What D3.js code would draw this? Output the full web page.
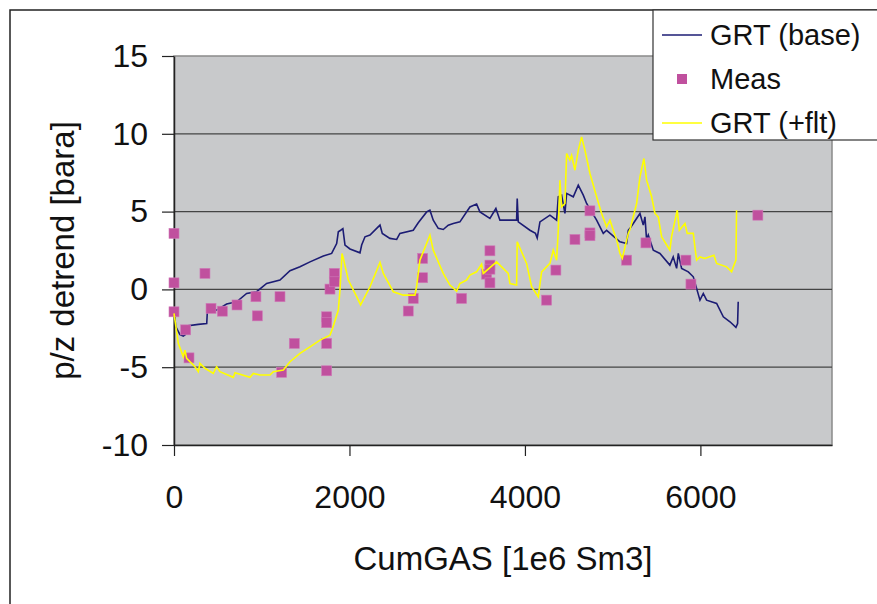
<!DOCTYPE html>
<html>
<head>
<meta charset="utf-8">
<script src="https://cdn.jsdelivr.net/npm/d3@7"></script>
<style>
  body { margin: 0; background: #fff; }
  svg text { font-family: "Liberation Sans", Arial, sans-serif; fill: #111; }
</style>
</head>
<body>
<svg id="chart" width="877" height="604"></svg>
<script>
"use strict";

// === Data ===
let xTicks = [0, 2000, 4000, 6000];
let yTicks = [-10, -5, 0, 5, 10, 15];
let seriesNames = ["GRT (base)", "Meas", "GRT (+flt)"];

// GRT (base) : [CumGAS, p/z detrend]
let grtBase = [
  [0, -1.3], [20, -2.4], [68, -2.9], [106, -3.0], [130, -2.9], [144, -2.35], [277, -2.25],
  [373, -2.19], [380, -1.44], [486, -1.33], [600, -0.94], [714, -0.8], [828, -0.26],
  [942, -0.15], [1056, 0.38], [1208, 0.6], [1322, 1.2], [1436, 1.45], [1550, 1.77],
  [1702, 2.14], [1797, 2.31], [1854, 2.95], [1873, 3.7], [1900, 3.8], [1925, 3.9],
  [1949, 2.85], [2006, 2.6], [2120, 2.35], [2139, 2.85], [2177, 3.38], [2234, 3.49],
  [2310, 3.92], [2348, 4.13], [2374, 3.6], [2461, 3.28], [2538, 3.21], [2575, 3.6],
  [2727, 3.8], [2784, 4.28], [2880, 4.98], [2917, 5.09], [2955, 4.45], [3012, 3.92],
  [3069, 3.85], [3126, 4.13], [3183, 4.24], [3259, 4.34], [3373, 5.3], [3449, 5.48],
  [3487, 4.98], [3601, 4.56], [3669, 5.2], [3715, 4.45], [3905, 4.45], [3912, 5.84],
  [3924, 4.34], [4057, 3.8], [4120, 3.6], [4140, 3.3], [4171, 4.34], [4285, 4.77],
  [4361, 4.45], [4380, 5.95], [4418, 6.06], [4456, 4.88], [4475, 6.17], [4551, 5.95],
  [4608, 6.7], [4665, 6.06], [4703, 5.52], [4817, 4.45], [4893, 3.6], [4931, 3.8],
  [5083, 3.06], [5159, 2.95], [5178, 3.8], [5197, 3.92], [5311, 4.88], [5349, 4.13],
  [5368, 4.66], [5387, 3.17], [5406, 3.49], [5463, 2.52], [5539, 2.31], [5652, 1.56],
  [5690, 2.09], [5729, 1.35], [5748, 2.31], [5786, 1.35], [5862, 1.13], [5919, 0.81],
  [5995, -0.69], [6033, -0.26], [6071, -0.69], [6185, -0.9], [6261, -1.76], [6337, -2.08],
  [6405, -2.44], [6424, -2.19], [6431, -0.8]
];

// Meas
let meas = [
  [0, 3.6], [0, 0.42], [0, -1.44], [133, -2.6], [171, -4.4], [353, 1.03], [422, -1.22],
  [551, -1.4], [718, -1.0], [934, -0.47], [950, -1.7], [1208, -0.47], [1227, -5.33],
  [1371, -3.47], [1740, -1.76], [1740, -2.14], [1740, -3.47], [1740, -5.23], [1778, 0.02],
  [1827, 1.03], [1827, 0.49], [2670, -1.39], [2727, -0.58], [2834, 1.99], [2834, 0.75],
  [3278, -0.58], [3563, 0.98], [3601, 2.48], [3601, 1.56], [3601, 1.3], [3601, 0.42],
  [4247, -0.69], [4353, 1.24], [4570, 3.21], [4741, 5.05], [4741, 3.63], [4741, 3.45],
  [5159, 1.88], [5379, 2.99], [5835, 1.88], [5892, 0.34], [6655, 4.77]
];

// GRT (+flt)
let grtFlt = [
  [0, -1.54], [49, -3.47], [106, -4.33], [125, -3.9], [144, -4.43], [239, -4.97], [277, -5.29],
  [296, -4.75], [353, -5.07], [448, -5.4], [486, -4.97], [524, -5.29], [676, -5.65],
  [695, -5.36], [866, -5.65], [904, -5.4], [980, -5.5], [1094, -5.5], [1132, -5.29],
  [1246, -5.18], [1322, -4.65], [1436, -4.11], [1550, -3.69], [1664, -3.26], [1778, -2.94],
  [1808, -2.5], [1873, -1.33], [1892, -0.04], [1915, 2.31], [1930, 1.99], [1987, 0.6],
  [2082, -0.47], [2127, -1.0], [2234, 0.17], [2348, 1.73], [2386, 1.03], [2500, -0.15],
  [2614, -0.37], [2746, -0.37], [2765, 0.17], [2803, 1.88], [2917, 3.49], [2955, 2.52],
  [3069, 1.03], [3145, 0.28], [3221, -0.11], [3259, 0.38], [3335, 0.6], [3373, 0.92],
  [3449, 1.13], [3506, 1.62], [3525, 1.03], [3677, 1.77], [3810, 1.03], [3829, 0.38],
  [3905, 0.28], [3912, 3.06], [4019, 1.67], [4076, 0.17], [4152, -0.47], [4190, 1.13],
  [4285, 1.67], [4323, 2.52], [4361, 1.88], [4380, 3.8], [4399, 7.02], [4418, 5.3],
  [4456, 5.52], [4475, 8.73], [4513, 8.3], [4532, 8.62], [4570, 7.66], [4608, 8.94],
  [4646, 9.8], [4684, 8.94], [4741, 7.45], [4817, 5.95], [4874, 4.88], [4931, 4.02],
  [4969, 4.45], [5007, 3.8], [5045, 3.2], [5083, 2.31], [5110, 2.0], [5178, 3.6],
  [5200, 3.9], [5273, 5.52], [5311, 7.23], [5356, 8.41], [5387, 7.02], [5444, 5.95],
  [5482, 4.88], [5520, 4.66], [5558, 3.38], [5600, 3.0], [5652, 2.52], [5671, 3.38],
  [5736, 5.09], [5760, 3.8], [5824, 4.24], [5850, 3.6], [5919, 3.6], [5937, 2.74],
  [5957, 1.88], [5995, 2.09], [6050, 1.99], [6154, 2.2], [6185, 1.67], [6299, 1.45],
  [6356, 1.13], [6375, 1.45], [6405, 1.88], [6412, 5.09]
];

// === Layout ===
let plot = { left: 174, right: 832, top: 56, bottom: 445 };
let colors = { base: "#1c1c74", meas: "#c0509e", flt: "#ffff00", plotBg: "#c8c9cb" };

let svg = d3.select("#chart");

let x = d3.scaleLinear().domain([0, 7500]).range([plot.left, plot.right]);
let y = d3.scaleLinear().domain([-10, 15]).range([plot.bottom, plot.top]);

// outer chart border
svg.append("rect")
  .attr("x", 10).attr("y", 10)
  .attr("width", 900).attr("height", 700)
  .attr("fill", "#fff")
  .attr("stroke", "#222")
  .attr("stroke-width", 1.5);

// plot area
svg.append("rect")
  .attr("x", plot.left).attr("y", plot.top)
  .attr("width", plot.right - plot.left).attr("height", plot.bottom - plot.top)
  .attr("fill", colors.plotBg)
  .attr("stroke", "#8a8a8a")
  .attr("stroke-width", 1.5);

// gridlines
svg.append("g")
  .selectAll("line")
  .data(yTicks.filter(t => t > -10 && t < 15))
  .join("line")
  .attr("x1", plot.left).attr("x2", plot.right)
  .attr("y1", d => y(d)).attr("y2", d => y(d))
  .attr("stroke", "#444")
  .attr("stroke-width", 1.2);

// axes (plain hyphen minus, no thousands separator)
let plainFmt = d => String(d);
let yAxis = svg.append("g")
  .attr("transform", `translate(${plot.left},0)`)
  .call(d3.axisLeft(y).tickValues(yTicks).tickFormat(plainFmt)
    .tickSize(12).tickPadding(14).tickSizeOuter(0));
let xAxis = svg.append("g")
  .attr("transform", `translate(0,${plot.bottom})`)
  .call(d3.axisBottom(x).tickValues(xTicks).tickFormat(plainFmt)
    .tickSize(11).tickPadding(29).tickSizeOuter(0));

[yAxis, xAxis].forEach(ax => {
  ax.select(".domain").attr("stroke", "#222").attr("stroke-width", 1.5);
  ax.selectAll(".tick line").attr("stroke", "#222").attr("stroke-width", 1.2);
  ax.selectAll(".tick text")
    .attr("font-size", 32)
    .attr("font-family", "Liberation Sans, Arial, sans-serif")
    .attr("fill", "#111");
});

// lines
let line = d3.line().x(d => x(d[0])).y(d => y(d[1]));

svg.append("path")
  .datum(grtBase)
  .attr("d", line)
  .attr("fill", "none")
  .attr("stroke", colors.base)
  .attr("stroke-width", 1.6);

svg.append("g")
  .selectAll("rect")
  .data(meas)
  .join("rect")
  .attr("x", d => x(d[0]) - 5)
  .attr("y", d => y(d[1]) - 5)
  .attr("width", 10).attr("height", 10)
  .attr("fill", colors.meas)
  .attr("stroke", "#cf7ab8")
  .attr("stroke-width", 0.6);

svg.append("path")
  .datum(grtFlt)
  .attr("d", line)
  .attr("fill", "none")
  .attr("stroke", colors.flt)
  .attr("stroke-width", 1.6);

// axis titles
svg.append("text")
  .attr("x", (plot.left + plot.right) / 2)
  .attr("y", 570)
  .attr("text-anchor", "middle")
  .attr("font-size", 33)
  .text("CumGAS [1e6 Sm3]");

svg.append("text")
  .attr("transform", `translate(74,${(plot.top + plot.bottom) / 2}) rotate(-90)`)
  .attr("text-anchor", "middle")
  .attr("font-size", 33)
  .text("p/z detrend [bara]");

// legend
let legend = svg.append("g");
legend.append("rect")
  .attr("x", 653).attr("y", 10)
  .attr("width", 240).attr("height", 130)
  .attr("fill", "#fff")
  .attr("stroke", "#333")
  .attr("stroke-width", 1.2);

let legendItems = [
  { name: seriesNames[0], kind: "line", color: colors.base },
  { name: seriesNames[1], kind: "mark", color: colors.meas },
  { name: seriesNames[2], kind: "line", color: colors.flt }
];

legendItems.forEach((it, i) => {
  let cy = 35 + i * 44;
  if (it.kind === "line") {
    legend.append("line")
      .attr("x1", 662).attr("x2", 702)
      .attr("y1", cy).attr("y2", cy)
      .attr("stroke", it.color)
      .attr("stroke-width", 1.6);
  } else {
    legend.append("rect")
      .attr("x", 677).attr("y", cy - 5)
      .attr("width", 10).attr("height", 10)
      .attr("fill", it.color);
  }
  legend.append("text")
    .attr("x", 710).attr("y", cy + 10)
    .attr("font-size", 29)
    .text(it.name);
});
</script>
</body>
</html>
